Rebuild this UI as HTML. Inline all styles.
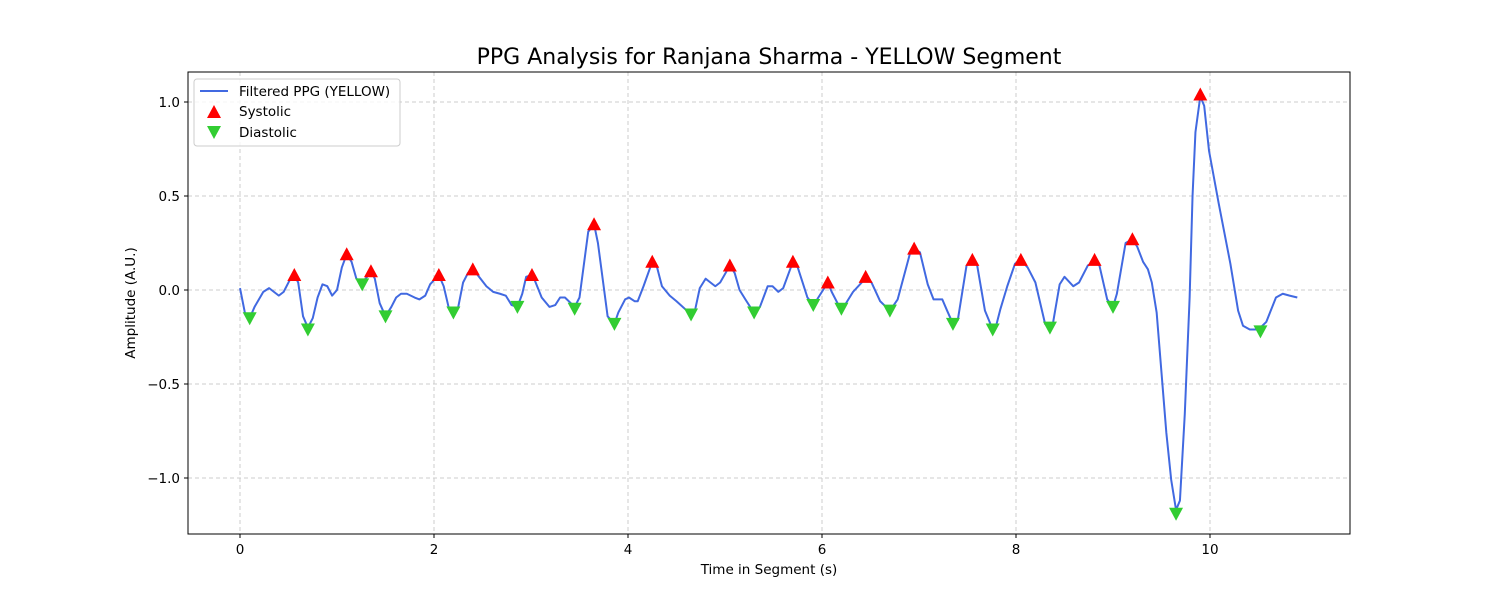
<!DOCTYPE html>
<html><head><meta charset="utf-8"><style>
body{margin:0;background:#fff}
svg{font-family:"DejaVu Sans","Liberation Sans",sans-serif}
</style></head><body>
<svg id="chart" width="1500" height="600">
<text x="769" y="64" font-size="22" text-anchor="middle">PPG Analysis for Ranjana Sharma - YELLOW Segment</text>
<g id="grid"></g>
<g id="ticks"></g>
<polyline id="ppg" fill="none" stroke="#4169e1" stroke-width="2" stroke-linejoin="round"/>
<g id="marks"></g>
<rect x="188" y="72" width="1162" height="462" fill="none" stroke="#000" stroke-width="1"/>
<text x="769" y="574" font-size="13.5" text-anchor="middle">Time in Segment (s)</text>
<text transform="translate(135,303) rotate(-90)" font-size="13.5" text-anchor="middle">Amplitude (A.U.)</text>
<g>
<rect x="194" y="79" width="206" height="67" rx="3" fill="#fff" fill-opacity="0.8" stroke="#ccc"/>
<line x1="200" y1="91" x2="228" y2="91" stroke="#4169e1" stroke-width="2"/>
<text x="239" y="96" font-size="13.5">Filtered PPG (YELLOW)</text>
<polygon points="214,105 221,118 207,118" fill="red"/>
<text x="239" y="116" font-size="13.5">Systolic</text>
<polygon points="207,126 221,126 214,139" fill="#32cd32"/>
<text x="239" y="137" font-size="13.5">Diastolic</text>
</g>
</svg>
<script>
const times=[0,0.05,0.10,0.15,0.24,0.30,0.40,0.45,0.51,0.56,0.60,0.65,0.70,0.75,0.80,0.85,0.90,0.95,1.00,1.05,1.10,1.15,1.20,1.26,1.31,1.35,1.39,1.44,1.50,1.56,1.61,1.66,1.72,1.80,1.85,1.91,1.96,2.05,2.10,2.15,2.20,2.25,2.30,2.35,2.40,2.45,2.54,2.61,2.68,2.74,2.80,2.86,2.91,2.95,3.01,3.04,3.11,3.19,3.25,3.30,3.35,3.45,3.50,3.59,3.65,3.69,3.79,3.86,3.90,3.97,4.01,4.07,4.10,4.16,4.25,4.30,4.35,4.43,4.50,4.65,4.69,4.74,4.80,4.85,4.90,4.95,5.05,5.10,5.15,5.21,5.26,5.30,5.36,5.44,5.49,5.55,5.60,5.70,5.75,5.80,5.85,5.91,5.95,6.06,6.10,6.20,6.26,6.32,6.41,6.45,6.51,6.60,6.70,6.78,6.91,6.95,7.01,7.09,7.15,7.24,7.29,7.35,7.40,7.49,7.55,7.60,7.68,7.76,7.80,7.84,7.91,7.99,8.05,8.12,8.20,8.30,8.35,8.38,8.45,8.50,8.59,8.65,8.74,8.81,8.86,8.94,9.00,9.04,9.13,9.20,9.25,9.31,9.36,9.40,9.45,9.50,9.55,9.60,9.65,9.69,9.74,9.79,9.82,9.85,9.90,9.94,9.99,10.09,10.21,10.29,10.34,10.41,10.50,10.58,10.68,10.75,10.82,10.90];
const values=[0.01,-0.12,-0.15,-0.09,-0.01,0.01,-0.03,-0.01,0.05,0.08,0.04,-0.14,-0.20,-0.15,-0.04,0.03,0.02,-0.03,0.00,0.12,0.19,0.15,0.06,0.04,0.07,0.10,0.06,-0.07,-0.14,-0.09,-0.04,-0.02,-0.02,-0.04,-0.05,-0.03,0.03,0.08,0.02,-0.09,-0.12,-0.09,0.04,0.09,0.11,0.08,0.02,-0.01,-0.02,-0.03,-0.08,-0.09,-0.02,0.07,0.08,0.05,-0.04,-0.09,-0.08,-0.04,-0.04,-0.09,-0.04,0.31,0.35,0.25,-0.14,-0.18,-0.12,-0.05,-0.04,-0.06,-0.06,0.02,0.15,0.12,0.02,-0.03,-0.06,-0.13,-0.11,0.01,0.06,0.04,0.02,0.04,0.13,0.09,0.00,-0.05,-0.09,-0.12,-0.09,0.02,0.02,-0.01,0.01,0.15,0.12,0.04,-0.04,-0.08,-0.05,0.04,-0.01,-0.11,-0.06,-0.01,0.04,0.07,0.04,-0.06,-0.11,-0.05,0.20,0.22,0.20,0.03,-0.05,-0.05,-0.11,-0.18,-0.16,0.13,0.16,0.13,-0.11,-0.21,-0.18,-0.10,0.02,0.14,0.16,0.12,0.04,-0.18,-0.20,-0.18,0.03,0.07,0.02,0.04,0.13,0.15,0.13,-0.05,-0.09,-0.02,0.25,0.27,0.23,0.15,0.11,0.04,-0.12,-0.44,-0.76,-1.01,-1.17,-1.12,-0.66,-0.04,0.50,0.84,1.03,0.98,0.74,0.46,0.14,-0.11,-0.19,-0.21,-0.21,-0.17,-0.04,-0.02,-0.03,-0.04];
const sysT=[0.56,1.10,1.35,2.05,2.40,3.01,3.65,4.25,5.05,5.70,6.06,6.45,6.95,7.55,8.05,8.81,9.20,9.90];
const sysV=[0.08,0.19,0.10,0.08,0.11,0.08,0.35,0.15,0.13,0.15,0.04,0.07,0.22,0.16,0.16,0.16,0.27,1.04];
const diaT=[0.10,0.70,1.26,1.50,2.20,2.86,3.45,3.86,4.65,5.30,5.91,6.20,6.70,7.35,7.76,8.35,9.00,9.65,10.52];
const diaV=[-0.15,-0.21,0.03,-0.14,-0.12,-0.09,-0.10,-0.18,-0.13,-0.12,-0.08,-0.10,-0.11,-0.18,-0.21,-0.20,-0.09,-1.19,-0.22];
const xTicks=[0,2,4,6,8,10];
const yTicks=[1.0,0.5,0.0,-0.5,-1.0];
const yTickLabels=["1.0","0.5","0.0","\u22120.5","\u22121.0"];

const X=t=>240+t*97, Y=v=>290-v*188;
const NS="http://www.w3.org/2000/svg";
function mk(tag,attrs,parent){const e=document.createElementNS(NS,tag);for(const k in attrs)e.setAttribute(k,attrs[k]);parent.appendChild(e);return e;}
const grid=document.getElementById('grid'),ticks=document.getElementById('ticks'),marks=document.getElementById('marks');
xTicks.forEach(t=>{
  const g=mk('line',{x1:X(t),x2:X(t),y1:72,y2:534,stroke:'#ccc','stroke-dasharray':'4,3'},grid);
  
  
  mk('line',{x1:X(t),x2:X(t),y1:534,y2:538,stroke:'#000'},ticks);
  const l=mk('text',{x:X(t),y:554,'font-size':13.5,'text-anchor':'middle'},ticks);l.textContent=t;
  
  
});
yTicks.forEach((v,i)=>{
  const g=mk('line',{x1:188,x2:1350,y1:Y(v),y2:Y(v),stroke:'#ccc','stroke-dasharray':'4,3'},grid);
  
  
  mk('line',{x1:184,x2:188,y1:Y(v),y2:Y(v),stroke:'#000'},ticks);
  const l=mk('text',{x:180,y:Y(v)+5,'font-size':13.5,'text-anchor':'end'},ticks);l.textContent=yTickLabels[i];
  
  
});
document.getElementById('ppg').setAttribute('points',times.map((t,i)=>X(t)+','+Y(values[i])).join(' '));
sysT.forEach((t,i)=>{const x=X(t),y=Y(sysV[i]);
  const p=mk('polygon',{points:`${x},${y-7} ${x+7},${y+6} ${x-7},${y+6}`,fill:'red'},marks);
  
  
});
diaT.forEach((t,i)=>{const x=X(t),y=Y(diaV[i]);
  const p=mk('polygon',{points:`${x-7},${y-6} ${x+7},${y-6} ${x},${y+7}`,fill:'#32cd32'},marks);
  
  
});
</script>
</body></html>
